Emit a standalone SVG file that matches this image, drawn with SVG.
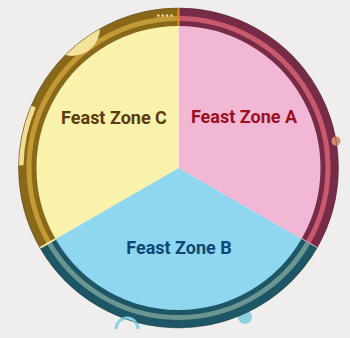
<svg xmlns="http://www.w3.org/2000/svg" width="350" height="338" viewBox="0 0 350 338">
<defs>
<style>
.lbl{font-family:Roboto,"Liberation Sans",sans-serif;font-weight:700;font-size:18px;text-anchor:middle}
.ring{fill:none;stroke-width:18}
.stripe{fill:none;stroke-width:5}
.sep{stroke-width:2}
</style>
<clipPath id="disc"><circle cx="178.5" cy="168" r="160"/></clipPath>
</defs>
<rect width="350" height="338" fill="#efeeec"/>
<g id="zone-a">
<path d="M178.5,168 L178.5,8 A160,160 0 0 1 317.06,248 Z" fill="#f2b7d4"/>
<path class="ring" d="M178.5,17 A151,151 0 0 1 309.27,243.5" stroke="#772b49"/>
<path class="stripe" d="M178.5,18.5 A149.5,149.5 0 0 1 307.97,242.75" stroke="#c95a6c"/>
<circle cx="336" cy="141" r="4.5" fill="#d98c6c"/>
<line class="sep" x1="317.06" y1="248" x2="301.48" y2="239" stroke="#f4b6c8"/>
<text class="lbl" x="244" y="123" fill="#9b0f1f">Feast Zone A</text>
</g>
<g id="zone-b">
<circle cx="245" cy="317" r="7" fill="#8ad1df"/>
<path d="M178.5,168 L317.06,248 A160,160 0 0 1 39.94,248 Z" fill="#8fd7ee"/>
<path class="ring" d="M309.27,243.5 A151,151 0 0 1 47.73,243.5" stroke="#1c5667"/>
<path class="stripe" d="M307.97,242.75 A149.5,149.5 0 0 1 49.03,242.75" stroke="#6a9591"/>
<path d="M116,329 A11,11 0 0 1 138,329" fill="none" stroke="#8ad3e3" stroke-width="3"/>
<text class="lbl" x="179" y="254" fill="#0d477a">Feast Zone B</text>
</g>
<g id="zone-c">
<path d="M178.5,168 L39.94,248 A160,160 0 0 1 178.5,8 Z" fill="#f8f2ac"/>
<path class="ring" d="M47.73,243.5 A151,151 0 0 1 178.5,17" stroke="#8a6819"/>
<path class="stripe" d="M49.03,242.75 A149.5,149.5 0 0 1 178.5,18.5" stroke="#c49a36"/>
<g clip-path="url(#disc)">
<circle cx="72" cy="28" r="28" fill="#f3e39a"/>
<path d="M33.52,106.46 A157.5,157.5 0 0 0 21.02,165.25" fill="none" stroke="#f2df94" stroke-width="5"/>
</g>
<circle cx="158.3" cy="15.6" r="1.3" fill="#f2d890"/>
<circle cx="162.7" cy="15.6" r="1.3" fill="#f2d890"/>
<circle cx="167" cy="15.6" r="1.3" fill="#f2d890"/>
<circle cx="171.5" cy="15.6" r="1.3" fill="#f2d890"/>
<line class="sep" x1="39.94" y1="248" x2="55.52" y2="239" stroke="#f5e9a0"/>
<line class="sep" x1="178.5" y1="8" x2="178.5" y2="26" stroke="#e08a2a"/>
<text class="lbl" x="114" y="124" fill="#5c3a0c">Feast Zone C</text>
</g>
<circle cx="178.5" cy="168" r="160" fill="none" stroke="#3a2a20" stroke-width="0.8" opacity="0.5"/>
</svg>
